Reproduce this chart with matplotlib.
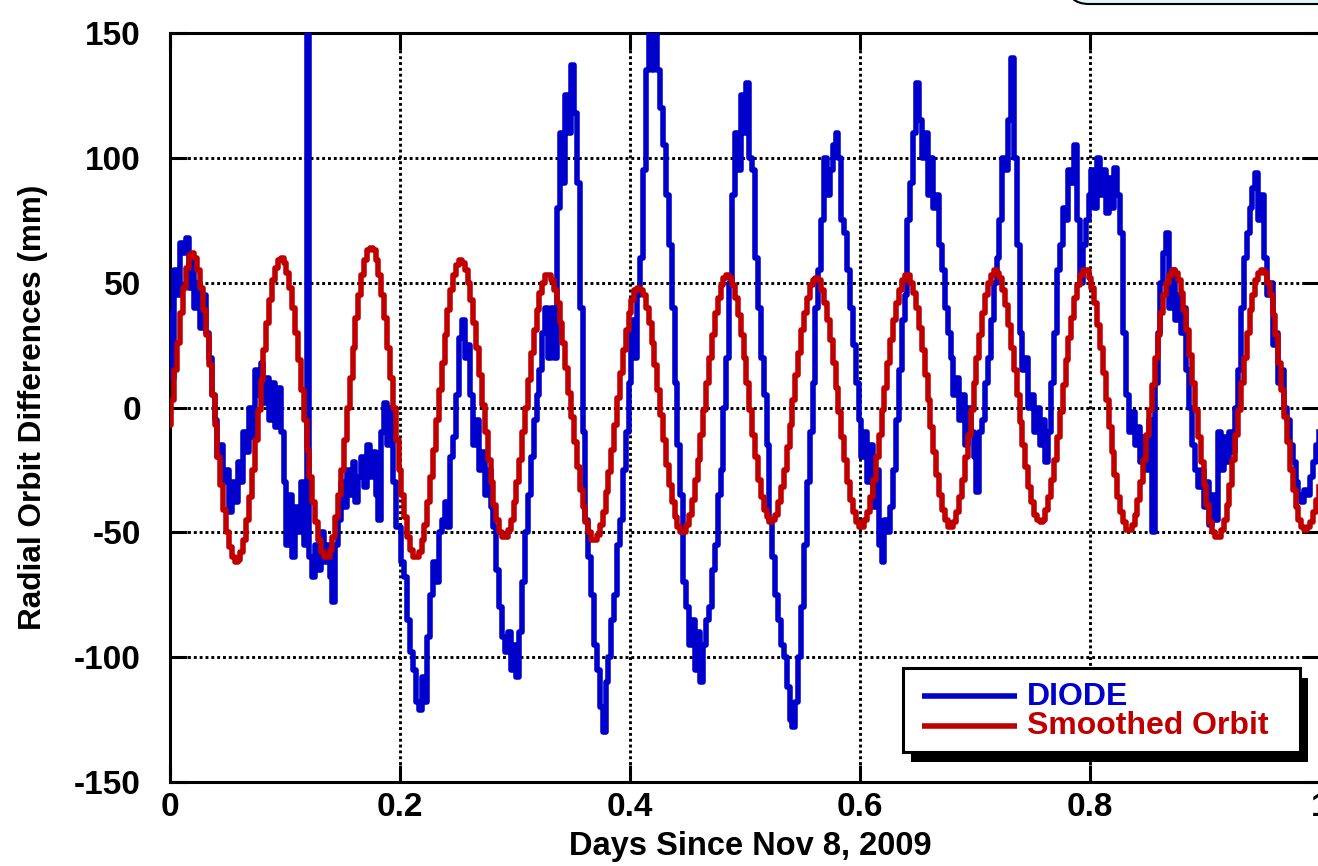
import numpy as np
import matplotlib
matplotlib.use("Agg")
import matplotlib.pyplot as plt
from matplotlib.patches import Rectangle, FancyBboxPatch
from matplotlib.lines import Line2D
from matplotlib.transforms import IdentityTransform

plt.rcParams['font.family'] = ['Liberation Sans', 'DejaVu Sans']
plt.rcParams['font.weight'] = 'bold'

# ---- data ----
sample_step_days = 0.0025

diode_mm = [
    38, 12, 55, 45, 66, 62, 68, 48, 60, 40, 50, 32, 45, 30, 20, 5, -5, -20, -15, -30,
    -25, -42, -30, -38, -22, -30, -10, -18, 0, -12, 15, 5, 18, 2, 12, -5, 10, -8, 8, -10,
    -30, -55, -35, -60, -40, -50, -30, -55, 155, -60, -68, -55, -65, -50, -62, -55, -68, -78, -55, -45,
    -30, -40, -25, -35, -22, -38, -28, -20, -32, -15, -28, -18, -35, -45, -10, 2, -15, 0, -30, -48,
    -48, -62, -68, -85, -98, -105, -118, -121, -108, -118, -92, -75, -62, -70, -50, -45, -38, -48, -20, -12,
    5, 28, 35, 20, 25, 5, -15, -5, -25, -18, -35, -25, -40, -48, -65, -80, -92, -98, -90, -105,
    -95, -108, -90, -70, -50, -35, -20, -5, 5, 15, 30, 40, 20, 40, 20, 80, 110, 90, 125, 110,
    137, 118, 90, 40, -10, -45, -60, -75, -95, -105, -120, -130, -110, -100, -85, -75, -55, -45, -25, -10,
    10, 35, 20, 45, 60, 95, 135, 155, 135, 155, 135, 120, 105, 85, 65, 40, 10, -15, -35, -70,
    -80, -95, -85, -105, -90, -110, -95, -85, -80, -65, -55, -35, -25, 0, 20, 50, 85, 110, 95, 125,
    110, 130, 100, 95, 60, 40, 20, 5, -15, -45, -60, -75, -85, -95, -100, -112, -125, -128, -118, -100,
    -80, -55, -30, -10, 10, 40, 55, 75, 100, 85, 95, 105, 110, 100, 75, 70, 55, 40, 25, 10,
    -5, -20, -10, -30, -15, -40, -25, -55, -62, -45, -50, -40, -25, -5, 15, 35, 45, 75, 90, 110,
    130, 115, 100, 110, 85, 100, 80, 85, 65, 55, 40, 30, 20, 5, 12, -5, 5, -15, 0, -10,
    -20, -34, -10, -5, 10, 20, 35, 50, 60, 75, 100, 95, 115, 140, 100, 65, 30, 15, 20, 0,
    5, -10, 0, -15, -5, -22, -10, 10, 30, 55, 65, 80, 75, 95, 90, 105, 75, 50, 65, 75,
    85, 95, 80, 100, 85, 95, 78, 92, 80, 96, 85, 70, 30, 5, -10, -2, -15, -8, -22, -12,
    -25, -5, -50, 10, 30, 50, 62, 70, 40, 55, 35, 45, 30, 40, 15, 0, -15, -25, -32, -25,
    -40, -30, -47, -35, -45, -10, -25, -12, -22, -10, -18, 0, 15, 40, 60, 70, 80, 88, 94, 75,
    85, 60, 45, 50, 25, 30, 10, 15, 0, -5, -15, -22, -30, -35, -38, -33, -35, -28, -22, -15, -10,
]

smoothed_mm = [
    -7, 3, 15, 26, 38, 48, 56, 61, 62,
    60, 55, 48, 39, 29, 17, 5, -7, -20, -31, -41, -50, -56, -60, -62,
    -61, -58, -53, -45, -36, -25, -13, -1, 11, 23, 34, 43, 51, 56, 59,
    60, 58, 54, 48, 40, 30, 19, 7, -5, -17, -28, -38, -46, -53, -58, -60,
    -60, -57, -52, -44, -35, -25, -13, 0, 12, 24, 36, 45, 53, 59, 63, 64,
    63, 59, 53, 45, 36, 24, 12, 0, -13, -25, -35, -44, -52, -57, -60,
    -60, -58, -53, -47, -38, -28, -17, -5, 7, 18, 29, 39, 47, 53, 57, 59,
    58, 55, 50, 43, 34, 24, 13, 1, -10, -21, -30, -39, -45, -50, -52,
    -52, -49, -45, -38, -30, -21, -10, 0, 11, 22, 31, 39, 46, 50, 53,
    53, 51, 47, 42, 34, 26, 16, 6, -4, -14, -24, -33, -40, -46, -50, -53,
    -53, -51, -47, -42, -34, -26, -17, -7, 4, 14, 23, 31, 38, 43, 47, 48,
    47, 45, 40, 34, 26, 17, 7, -3, -13, -23, -31, -38, -44, -48, -50,
    -50, -47, -43, -37, -29, -21, -11, -1, 10, 20, 29, 38, 44, 49, 52, 53,
    52, 49, 44, 37, 29, 20, 10, -1, -11, -20, -29, -36, -41, -44, -46,
    -45, -43, -38, -32, -25, -16, -7, 3, 13, 22, 31, 38, 44, 49, 51, 52,
    51, 47, 42, 35, 27, 18, 8, -2, -12, -21, -30, -37, -42, -46, -48,
    -48, -45, -42, -36, -29, -20, -11, -1, 8, 18, 27, 35, 42, 47, 51, 53,
    53, 50, 46, 40, 32, 23, 13, 3, -8, -18, -27, -35, -41, -45, -48, -48,
    -46, -42, -36, -29, -20, -11, -1, 10, 20, 29, 38, 45, 50, 53, 55,
    54, 52, 47, 41, 33, 24, 15, 5, -6, -15, -24, -32, -38, -43, -45, -46,
    -45, -41, -36, -29, -21, -12, -2, 9, 19, 28, 36, 44, 49, 53, 55,
    55, 52, 48, 42, 33, 24, 14, 3, -8, -18, -27, -36, -42, -46, -49, -49,
    -47, -43, -37, -30, -21, -11, -1, 9, 20, 29, 38, 45, 50, 53, 55,
    54, 51, 46, 39, 31, 21, 10, -1, -12, -22, -31, -39, -46, -50, -52,
    -52, -49, -45, -39, -31, -21, -11, -1, 10, 20, 30, 39, 45, 51, 54, 55,
    54, 50, 45, 37, 29, 18, 7, -4, -14, -25, -33, -40, -45, -48, -49, -48, -46, -42, -37, -32,
]

series_labels = ['DIODE', 'Smoothed Orbit']
x_ticks = [0, 0.2, 0.4, 0.6, 0.8, 1.0]
x_tick_labels = ['0', '0.2', '0.4', '0.6', '0.8', '1']
y_ticks = [-150, -100, -50, 0, 50, 100, 150]
y_tick_labels = ['-150', '-100', '-50', '0', '50', '100', '150']
x_label = 'Days Since Nov 8, 2009'
y_label = 'Radial Orbit Differences (mm)'

diode_days = np.arange(len(diode_mm)) * sample_step_days
smooth_days = np.arange(len(smoothed_mm)) * sample_step_days

# ---- figure ----
W, H = 1318, 866
fig = plt.figure(figsize=(W / 100, H / 100), dpi=100)
fig.patch.set_facecolor('white')
ax = fig.add_axes([170 / W, 1 - 782 / H, 1150 / W, 749 / H])

BLUE = '#0000CC'
RED = '#C00000'
LW = 4.0
FS = 24

ax.plot(diode_days, diode_mm, color=BLUE, lw=LW, drawstyle='steps-mid',
        label=series_labels[0], zorder=3)
ax.plot(smooth_days, smoothed_mm, color=RED, lw=LW, drawstyle='steps-mid',
        label=series_labels[1], zorder=4)

ax.set_xlim(0, 1)
ax.set_ylim(-150, 150)
ax.set_xticks(x_ticks)
ax.set_xticklabels(x_tick_labels)
ax.set_yticks(y_ticks)
ax.set_yticklabels(y_tick_labels)

ax.set_axisbelow(True)
ax.grid(True, color='black', linestyle=(0, (1, 1)), linewidth=2.1)

for s in ax.spines.values():
    s.set_linewidth(2.2)
    s.set_color('black')

ax.tick_params(direction='in', length=12, width=2.2, top=True, right=True,
               labelsize=FS, colors='black')
ax.tick_params(axis='y', pad=21)
ax.tick_params(axis='x', pad=7)
for lab in ax.get_xticklabels() + ax.get_yticklabels():
    lab.set_fontweight('bold')

ax.set_xlabel(x_label, fontsize=23.5, fontweight='bold')
ax.set_ylabel(y_label, fontsize=22.7, fontweight='bold')
ax.xaxis.set_label_coords(0.505, -0.066)
ax.yaxis.set_label_coords(-0.106, 0.5)

# ---- legend box (pixel layout, origin top-left) ----
def px(x, y):
    return x, H - y

ident = IdentityTransform()
lx0, ly0, lx1, ly1 = 903, 668, 1300, 752
shadow = Rectangle(px(lx0 + 8, ly1 + 10), lx1 - lx0, ly1 - ly0,
                   transform=ident, facecolor='black', edgecolor='black',
                   linewidth=0, zorder=20)
frame = Rectangle(px(lx0, ly1), lx1 - lx0, ly1 - ly0, transform=ident,
                  facecolor='white', edgecolor='black', linewidth=2.2,
                  zorder=21)
fig.add_artist(shadow)
fig.add_artist(frame)
legend_rows = [(series_labels[0], BLUE, 696, 705),
               (series_labels[1], RED, 726, 734)]
for label, col, yline, ybase in legend_rows:
    fig.add_artist(Line2D([922, 1017], [H - yline, H - yline], color=col,
                          lw=LW, transform=ident, zorder=22,
                          solid_capstyle='butt'))
    fig.text(1027 / W, 1 - ybase / H, label, color=col, fontsize=23,
             fontweight='bold', ha='left', va='baseline', zorder=23)

# partially visible rounded title box at top right
title_box = FancyBboxPatch((1067, H - 4), 400, 100,
                           boxstyle='round,pad=0,rounding_size=22',
                           transform=ident, facecolor='#DCF8F8',
                           edgecolor='black', linewidth=1.5, clip_on=False)
fig.add_artist(title_box)

fig.savefig('out.png', dpi=100)
